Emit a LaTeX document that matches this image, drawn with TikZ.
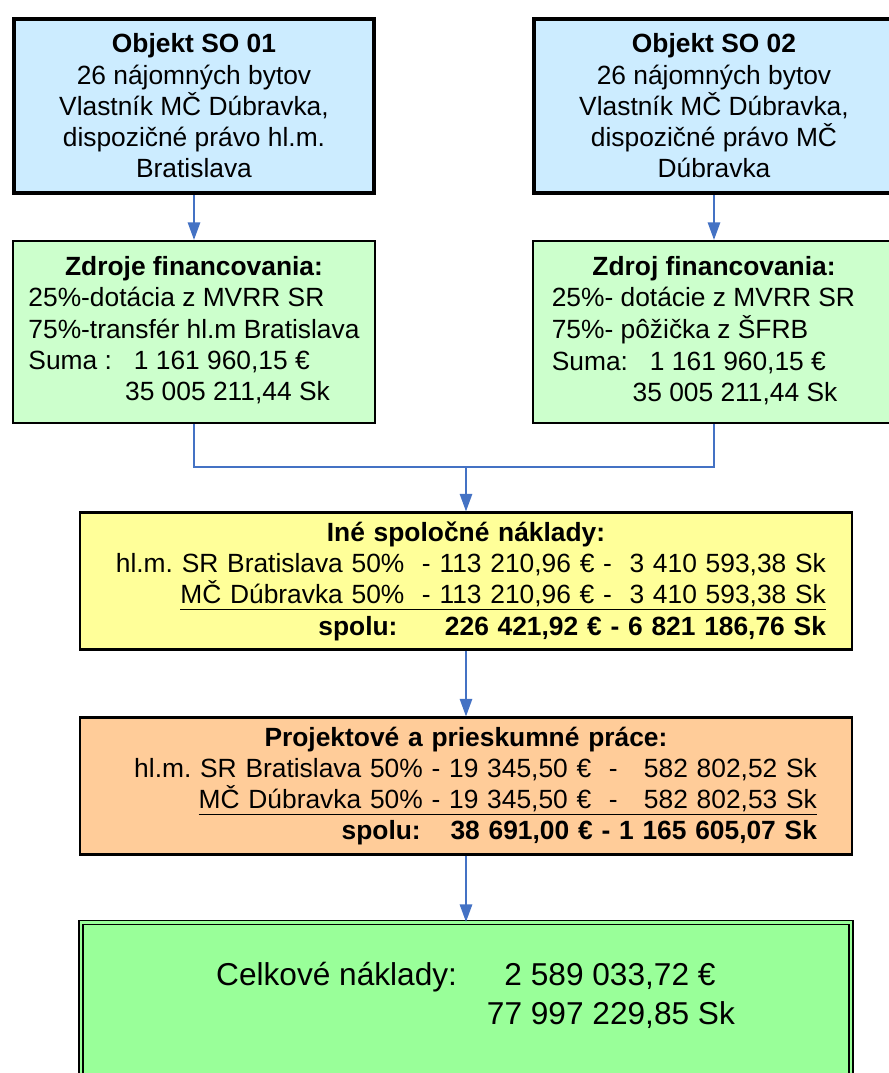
\documentclass[tikz,border=0pt]{standalone}
\usepackage{fontspec}
\setmainfont{Liberation Sans}
\usetikzlibrary{arrows.meta,positioning}
\frenchspacing

\definecolor{objblue}{HTML}{CCECFF}
\definecolor{fingreen}{HTML}{CCFFCC}
\definecolor{comyellow}{HTML}{FFFF99}
\definecolor{projorange}{HTML}{FFCC99}
\definecolor{totgreen}{HTML}{99FF99}
\definecolor{linkblue}{HTML}{4472C4}

\begin{document}
\begin{tikzpicture}[x=0.2mm,y=-0.2mm,
  objbox/.style={draw=black,line width=2.3pt,fill=objblue,minimum width=72mm,minimum height=34.8mm,align=center,inner sep=0pt,font=\fontsize{15}{17.8}\selectfont},
  finbox/.style={draw=black,line width=1.2pt,fill=fingreen,minimum width=72.4mm,minimum height=36.4mm,inner sep=0pt,font=\fontsize{15}{17.8}\selectfont},
  costbox/.style={draw=black,line width=1.2pt,minimum width=154.4mm,minimum height=27.4mm,align=right,inner ysep=0pt,font=\fontsize{15}{17.8}\selectfont},
  totbox/.style={draw=black,line width=0.7pt,double=totgreen,double distance=1.6pt,fill=totgreen,minimum width=154mm,minimum height=36mm},
  link/.style={draw=linkblue,line width=1.1pt},
  flowarrow/.style={link,-{Triangle[length=10pt,width=7pt]}}]
\useasboundingbox (0,0) rectangle (889,1073);

% Objects
\node[objbox] (obj1) at (194,106) {\textbf{Objekt SO 01}\\26 nájomných bytov\\Vlastník MČ Dúbravka,\\dispozičné právo hl.m.\\Bratislava};
\node[objbox] (obj2) at (714,106) {\textbf{Objekt SO 02}\\26 nájomných bytov\\Vlastník MČ Dúbravka,\\dispozičné právo MČ\\Dúbravka};

% Financing
\node[finbox] (fin1) at (194,332) {\begin{tabular}{@{}l@{}}
\multicolumn{1}{@{}c@{}}{\textbf{Zdroje financovania:}}\\
25\%-dotácia z MVRR SR\\
75\%-transfér hl.m Bratislava\\
Suma :~~~1 161 960,15 €\\
\hspace*{55pt}35 005 211,44 Sk
\end{tabular}};
\node[finbox] (fin2) at (714,332) {\begin{tabular}{@{}l@{\hspace{12pt}}}
\multicolumn{1}{@{}c@{}}{\textbf{Zdroj financovania:}}\\
25\%- dotácie z MVRR SR\\
75\%- pôžička z ŠFRB\\
Suma:~~~1 161 960,15 €\\
\hspace*{46pt}35 005 211,44 Sk
\end{tabular}};

% Common costs
\node[costbox,fill=comyellow,inner xsep=5.2mm,text width=144mm] (common) at (466,581) {%
\makebox[\linewidth]{\textbf{Iné spoločné náklady:}}\\
hl.m. SR Bratislava 50\%~~- 113 210,96 € -~~3 410 593,38 Sk\\
\underline{MČ Dúbravka 50\%~~- 113 210,96 € -~~3 410 593,38 Sk}\\
\textbf{spolu:\hspace{27pt}226 421,92 € - 6 821 186,76 Sk}};

% Project works
\node[costbox,fill=projorange,inner xsep=7mm,text width=140.4mm] (project) at (466,786) {%
\makebox[\linewidth]{\textbf{Projektové a prieskumné práce:}}\\
hl.m. SR Bratislava 50\% - 19 345,50 €~~-~~~582 802,52 Sk\\
\underline{MČ Dúbravka 50\% - 19 345,50 €~~-~~~582 802,53 Sk}\\
\textbf{spolu:\hspace{17pt}38 691,00 € - 1 165 605,07 Sk}};

% Total
\node[totbox,anchor=north] (total) at (466,922) {};
\node[anchor=west,font=\fontsize{18}{22}\selectfont] (totaltext) at (210,997) {\begin{tabular}{@{}l@{\hspace{17pt}}l@{}}
Celkové náklady: & \hspace*{10pt}2 589 033,72 €\\
 & 77 997 229,85 Sk
\end{tabular}};

% Connections
\coordinate (merge) at (466,467);
\draw[flowarrow] (obj1.south) -- (fin1.north);
\draw[flowarrow] (obj2.south) -- (fin2.north);
\draw[link] (fin1.south) |- (merge) -| (fin2.south);
\draw[flowarrow] (merge) -- (common.north);
\draw[flowarrow] (common.south) -- (project.north);
\draw[flowarrow] (project.south) -- (total.north);
\end{tikzpicture}
\end{document}
